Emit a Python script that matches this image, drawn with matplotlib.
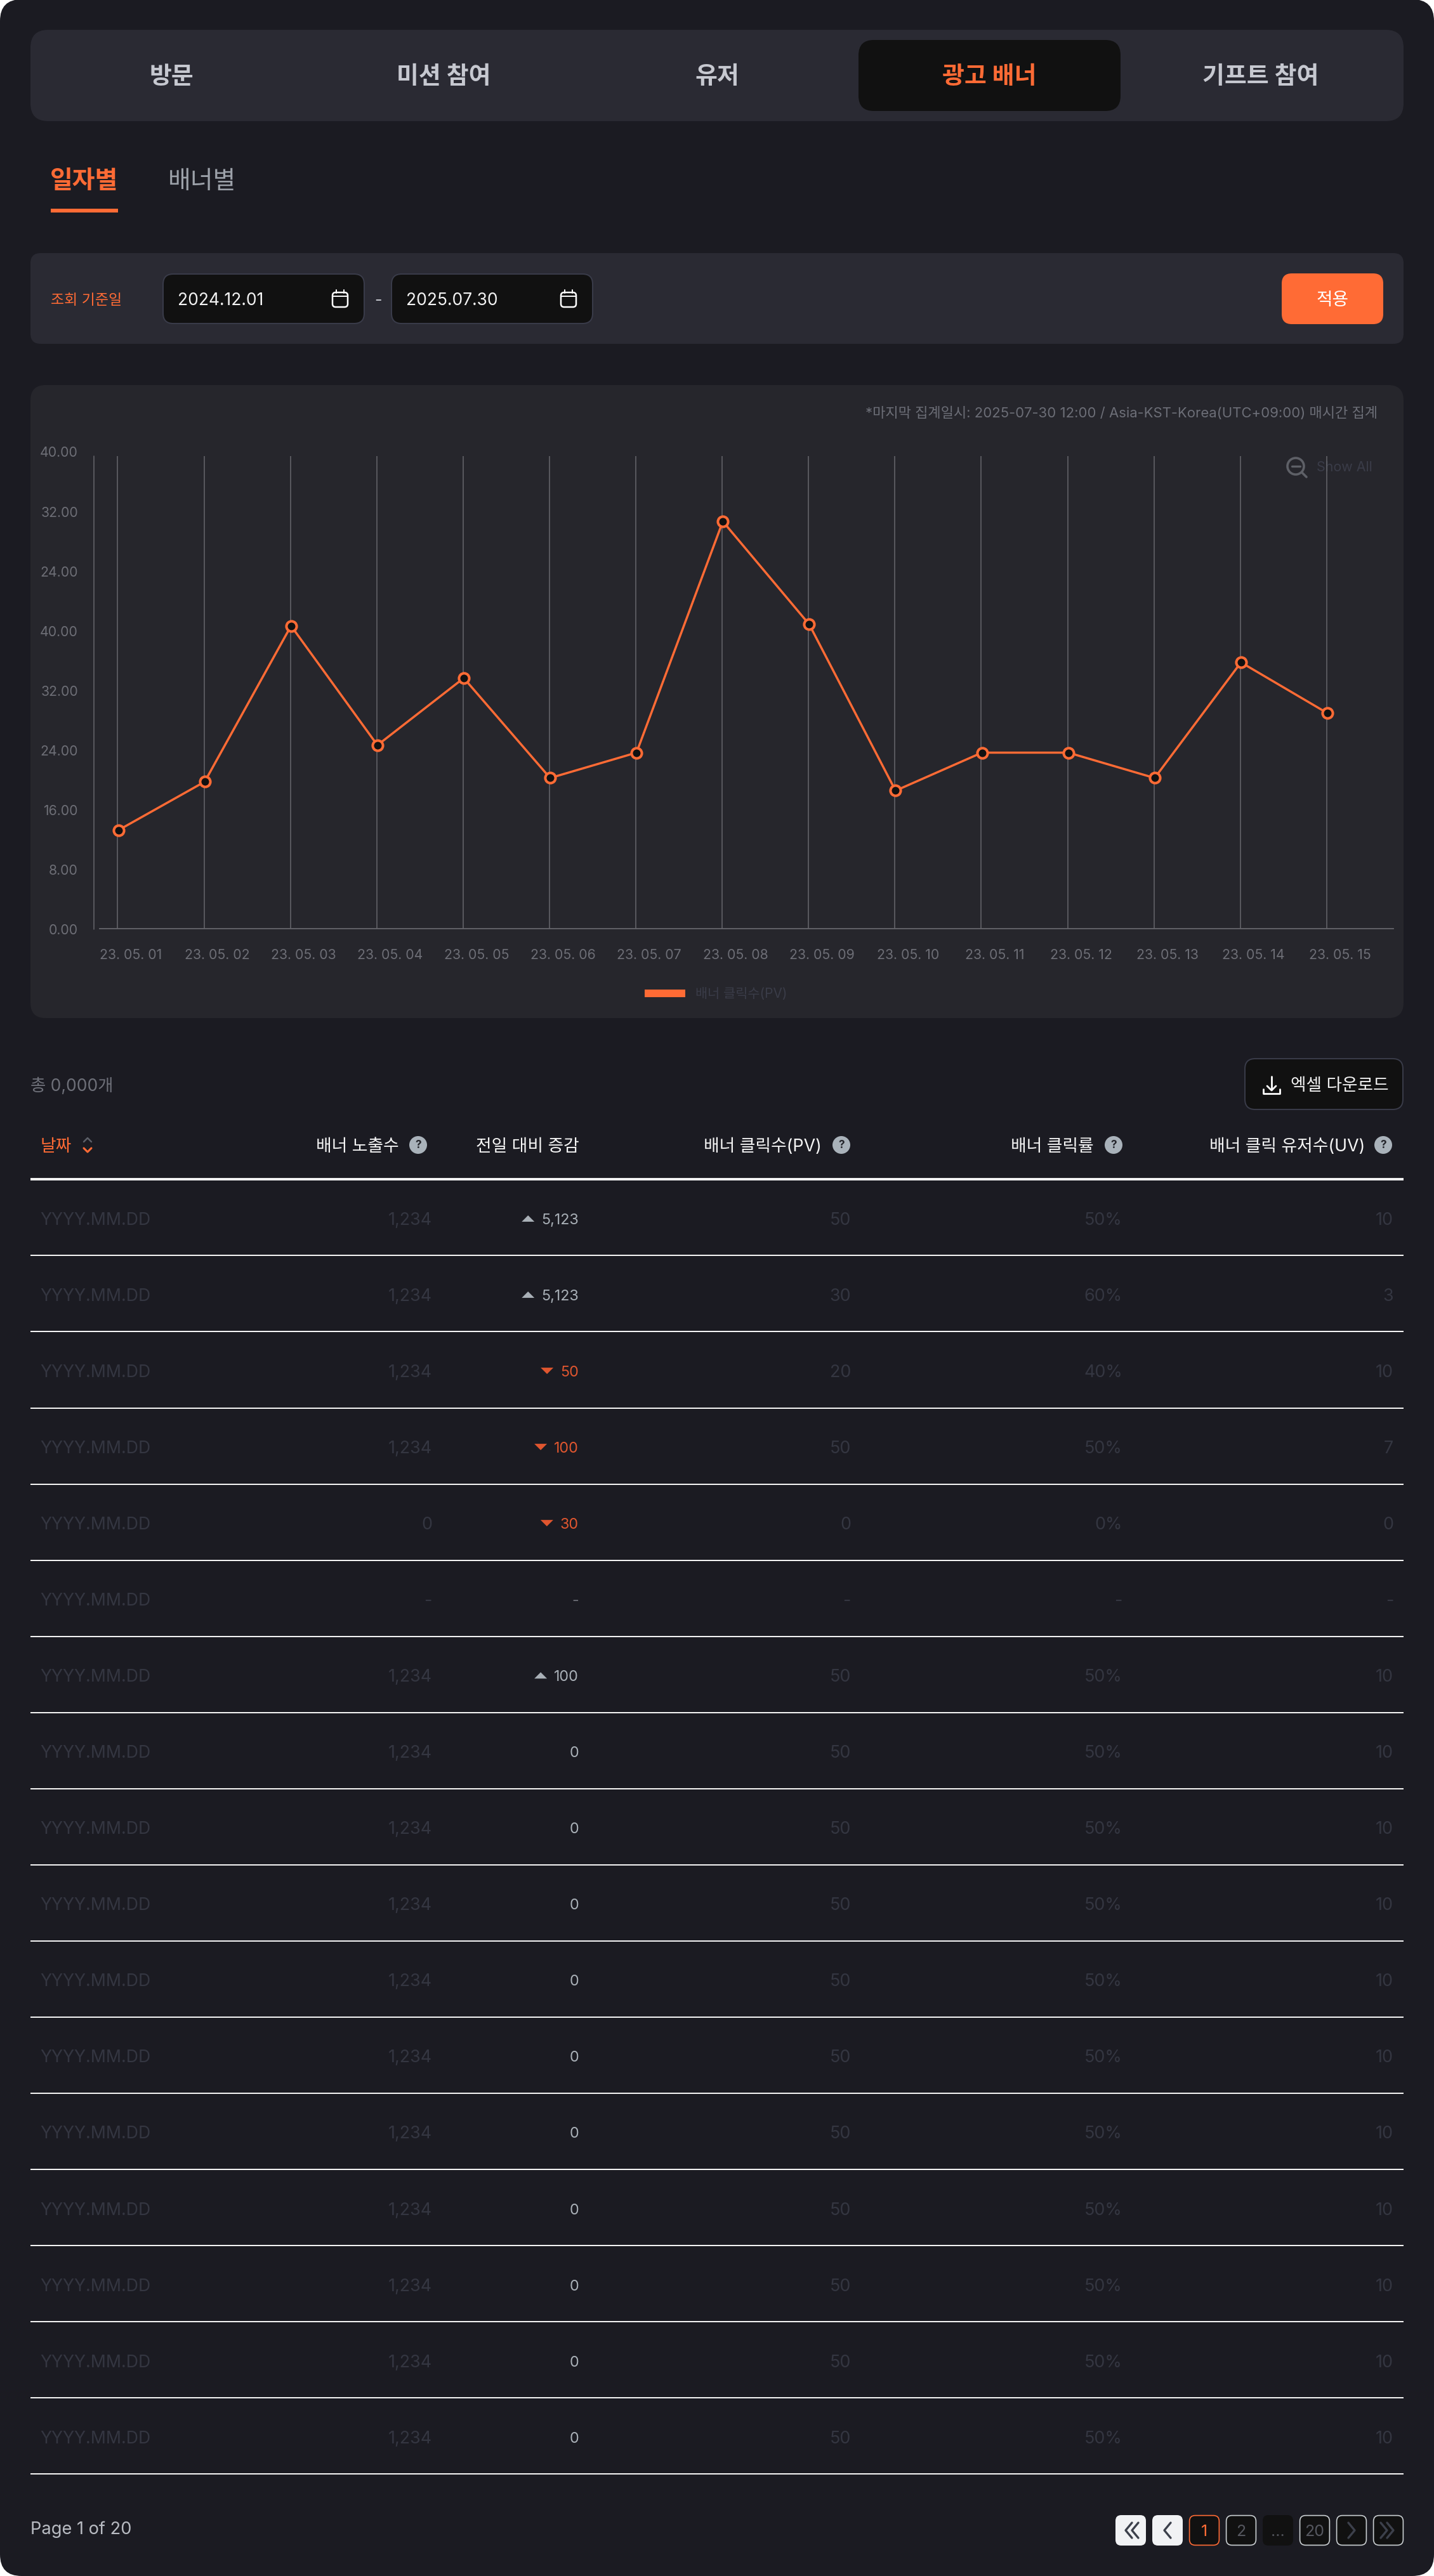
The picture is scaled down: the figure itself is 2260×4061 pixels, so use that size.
import matplotlib
matplotlib.use("Agg")
import matplotlib.pyplot as plt
from matplotlib.patches import FancyBboxPatch, Rectangle, Circle, Polygon
from matplotlib.transforms import ScaledTranslation

# ---------- data ----------
tabs = ["방문", "미션 참여", "유저", "광고 배너", "기프트 참여"]
subtabs = ["일자별", "배너별"]
dates_x = ["23. 05. 01", "23. 05. 02", "23. 05. 03", "23. 05. 04", "23. 05. 05",
           "23. 05. 06", "23. 05. 07", "23. 05. 08", "23. 05. 09", "23. 05. 10",
           "23. 05. 11", "23. 05. 12", "23. 05. 13", "23. 05. 14", "23. 05. 15"]
# values in the axis' own evenly spaced scale (tick positions below)
clicks_pv = [13.2, 19.7, 40.6, 24.6, 33.6, 20.2, 23.6, 54.6, 40.8, 18.5, 23.6, 23.6, 20.2, 35.7, 28.9]
y_positions = [0, 8, 16, 24, 32, 40, 48, 56, 64]
y_labels = ["0.00", "8.00", "16.00", "24.00", "32.00", "40.00", "24.00", "32.00", "40.00"]

row_dates = ["YYYY.MM.DD"] * 17
col_exposure = ["1,234", "1,234", "1,234", "1,234", "0", "-"] + ["1,234"] * 11
col_delta = ["5,123", "5,123", "50", "100", "30", "-", "100"] + ["0"] * 10
col_dir = ["up", "up", "down", "down", "down", "", "up"] + [""] * 10
col_clicks = ["50", "30", "20", "50", "0", "-"] + ["50"] * 11
col_rate = ["50%", "60%", "40%", "50%", "0%", "-"] + ["50%"] * 11
col_uv = ["10", "3", "10", "7", "0", "-"] + ["10"] * 11
pages = ["1", "2", "...", "20"]

# ---------- style ----------
W, H = 2260, 4062
BG = "#1b1b22"; PANEL = "#2a2a33"; CHART = "#26262c"; BLACK = "#111111"
ORANGE = "#ff6b35"; DIM = "#343641"; GRID = "#66666c"
FAM = ["Inter", "Noto Sans CJK KR", "DejaVu Sans"]
plt.rcParams["font.family"] = FAM

fig = plt.figure(figsize=(W / 100, H / 100), dpi=100, facecolor="white")
bg = fig.add_axes([0, 0, 1, 1])
bg.set_xlim(0, W); bg.set_ylim(H, 0); bg.axis("off")


def box(x0, y0, x1, y1, fc, r=16, ec="none", lw=0, ax=bg, z=1):
    p = FancyBboxPatch((x0, y0), x1 - x0, y1 - y0, boxstyle=f"round,pad=0,rounding_size={r}",
                       fc=fc, ec=ec, lw=lw, zorder=z)
    ax.add_patch(p)


def T(x, y, s, size, color, ha="center", weight="normal", z=5):
    return bg.text(x, y + 2, s, fontsize=size, color=color, ha=ha, va="center", fontweight=weight,
                   family=FAM, zorder=z)


def L(xs, ys, c, lw=2, z=5):
    bg.plot(xs, ys, color=c, lw=lw, solid_capstyle="round", solid_joinstyle="round", zorder=z)


box(0, 0, W, H, BG, r=34)

# top tabs
box(48, 48, 2212, 192, PANEL, r=28)
box(1353, 64, 1766, 176, BLACK, r=24, z=2)
for cx, name, active in zip([270, 699, 1130, 1559, 1987], tabs, [0, 0, 0, 1, 0]):
    T(cx, 120, name, 27.3, ORANGE if active else "#c6c8d0", weight="bold")

# sub tabs
T(133, 284, subtabs[0], 28, ORANGE, weight="bold")
T(318, 284, subtabs[1], 28, "#9ca1a9")
bg.add_patch(Rectangle((80, 330), 106, 6, fc=ORANGE, ec="none", zorder=3))

# filter panel
box(48, 400, 2212, 543, PANEL, r=16)
T(80, 472, "조회 기준일", 16.5, ORANGE, ha="left")


def calendar(cx, cy):
    box(cx - 12, cy - 10, cx + 12, cy + 13, "none", r=5, ec="white", lw=1.8, z=6)
    L([cx - 12, cx + 12], [cy - 4, cy - 4], "white", 1.4, 6)
    L([cx - 6, cx - 6], [cy - 14, cy - 9], "white", 1.4, 6)
    L([cx + 6, cx + 6], [cy - 14, cy - 9], "white", 1.4, 6)


for x0, x1, s, ic in [(257, 574, "2024.12.01", 536), (617, 934, "2025.07.30", 896)]:
    box(x0, 433, x1, 511, BLACK, r=16, ec="#3a3c4a", lw=1.4, z=2)
    T(x0 + 23, 472, s, 19, "#f2f2f2", ha="left")
    calendar(ic, 472)
T(596, 472, "-", 18, "#c6c8d0")
box(2020, 432, 2180, 512, ORANGE, r=16, z=2)
T(2100, 472, "적용", 20, "#ffffff")

# chart panel
box(48, 608, 2212, 1606, CHART, r=24)
T(2171, 649, "*마지막 집계일시: 2025-07-30 12:00 / Asia-KST-Korea(UTC+09:00) 매시간 집계", 15.9, "#6c6e77", ha="right")

ax_l, ax_r, ax_t, ax_b = 148, 2196, 712.5, 1465
ax = fig.add_axes([ax_l / W, 1 - ax_b / H, (ax_r - ax_l) / W, (ax_b - ax_t) / H], facecolor="none")
ax.set_zorder(3)
step = 136.1
first = 186.5
ax.set_xlim((ax_l - first) / step, (ax_r - first) / step)
ax.set_ylim(0, 64)
xs = list(range(len(clicks_pv)))
grid_top = (ax_b - 720) / (ax_b - ax_t) * 64
ax.vlines([x - 0.008 for x in xs], 0, grid_top, color=GRID, lw=1.1, zorder=1)
ax.plot(xs, clicks_pv, color=ORANGE, lw=2.5, marker="o", ms=11.6, mfc="#111111", mec=ORANGE, mew=2.9, zorder=3)
ax.set_xticks(xs, dates_x)
ax.set_yticks(y_positions, y_labels)
ax.tick_params(axis="both", length=0, colors="#6d6e76", labelsize=15.3)
ax.tick_params(axis="x", pad=22)
ax.tick_params(axis="y", pad=18)
off = ScaledTranslation(20 / 100, 0, fig.dpi_scale_trans)
for lab in ax.get_xticklabels():
    lab.set_transform(lab.get_transform() + off)
for s in ["top", "right", "left"]:
    ax.spines[s].set_visible(False)
ax.spines["bottom"].set_color(GRID); ax.spines["bottom"].set_linewidth(1.3)
ax.spines["bottom"].set_bounds((157 - first) / step, (ax_r - first) / step)
L([148, 148], [720, 1466], GRID, 1.1, 4)

# show all
bg.add_patch(Circle((2042, 736), 13, fc="none", ec="#5e6067", lw=2.6, zorder=5))
L([2036, 2049], [736, 736], "#5e6067", 2.4)
L([2052, 2059], [746, 753], "#5e6067", 2.6)
T(2163, 735, "Show All", 15.4, "#3a3c48", ha="right", z=2)

# legend
bg.add_patch(Rectangle((1016, 1561), 64, 12, fc=ORANGE, ec="none", zorder=3))
T(1096, 1565, "배너 클릭수(PV)", 15, "#3a3c48", ha="left")

# table head
T(48, 1710, "총 0,000개", 19, "#6e7079", ha="left")
box(1962, 1670, 2211, 1750, BLACK, r=16, ec="#3a3c4a", lw=1.4, z=2)
T(2034, 1710, "엑셀 다운로드", 19.2, "#f2f2f2", ha="left")
L([2004, 2004], [1698, 1719], "white", 2)
L([1997, 2004, 2011], [1713, 1720, 1713], "white", 2)
L([1991, 1991, 2017, 2017], [1718, 1725, 1725, 1718], "white", 2)

T(64, 1806, "날짜", 19.3, ORANGE, ha="left")
L([132, 138, 144], [1801, 1795, 1801], "#5c5f68", 1.8)
L([132, 138, 144], [1811, 1817, 1811], ORANGE, 2.2)


def qmark(cx, cy=1806):
    bg.add_patch(Circle((cx, cy), 14, fc="#a9b2ba", ec="none", zorder=5))
    T(cx, cy - 2, "?", 12.5, "#25262c", weight="bold", z=6)


for xr, s, q in [(629, "배너 노출수", 659), (913, "전일 대비 증감", None), (1295, "배너 클릭수(PV)", 1326),
                 (1724, "배너 클릭률", 1755), (2151, "배너 클릭 유저수(UV)", 2180)]:
    T(xr, 1806, s, 19.3, "#f5f5f5", ha="right")
    if q:
        qmark(q)

# table rows
head_y = 1860
row_h = 120.04
bg.add_patch(Rectangle((48, head_y - 2), 2164, 4, fc="#f0f0f0", ec="none", zorder=3))
fig.canvas.draw()
rend = fig.canvas.get_renderer()
for i in range(17):
    cy = head_y + 62 + i * row_h
    ly = round(head_y + (i + 1) * row_h + 0.4)
    bg.add_patch(Rectangle((48, ly - 1), 2164, 2, fc="#f4f4f4", ec="none", zorder=3))
    T(63, cy, row_dates[i], 19.2, DIM, ha="left")
    T(681, cy, col_exposure[i], 19.4, DIM, ha="right")
    T(1341, cy, col_clicks[i], 19.4, DIM, ha="right")
    T(1769, cy, col_rate[i], 19.4, DIM, ha="right")
    T(2196, cy, col_uv[i], 19.4, DIM, ha="right")
    d = col_dir[i]
    if col_delta[i] == "-":
        col = "#6b6d75"
    elif d == "down":
        col = "#e0562f"
    else:
        col = "#a9b0b7"
    t = T(912, cy, col_delta[i], 16.8, col, ha="right")
    if d:
        left = t.get_window_extent(rend).x0
        tc = left - 21
        if d == "up":
            pts = [(tc - 10, cy + 5), (tc + 10, cy + 5), (tc, cy - 5)]
        else:
            pts = [(tc - 10, cy - 5), (tc + 10, cy - 5), (tc, cy + 5)]
        bg.add_patch(Polygon(pts, fc=col, ec="none", zorder=5))

# footer
T(48, 3986, "Page 1 of 20", 19.6, "#b8bbc2", ha="left")
btn = [1758, 1816, 1874, 1932, 1990, 2048, 2106, 2164]
DK = "#3c404b"
EDGE = "#c9ced1"


def chev(cx, d, c, lw=2.4):
    L([cx - d * 5, cx + d * 5, cx - d * 5], [3978, 3990, 4002], c, lw, 6)


for i, x in enumerate(btn):
    if i < 2:
        box(x, 3966, x + 48, 4014, "#f1f2f4", r=9, z=2)
    elif i == 4:
        box(x, 3966, x + 48, 4014, BLACK, r=9, z=2)
    else:
        box(x + 0.6, 3966.6, x + 47.4, 4013.4, BLACK, r=9, ec=ORANGE if i == 2 else EDGE, lw=1.2, z=2)
cx = btn[0] + 24
chev(cx - 3, -1, DK); chev(cx + 7, -1, DK)
chev(btn[1] + 24, -1, DK)
chev(btn[6] + 24, 1, DK)
cx = btn[7] + 24
chev(cx - 7, 1, DK); chev(cx + 3, 1, DK)
T(btn[2] + 24, 3989, pages[0], 18, ORANGE)
T(btn[3] + 24, 3989, pages[1], 18, "#55575f")
T(btn[4] + 24, 3989, pages[2], 18, "#55575f")
T(btn[5] + 24, 3989, pages[3], 18, "#55575f")

fig.savefig("out.png", dpi=100, facecolor="white")
